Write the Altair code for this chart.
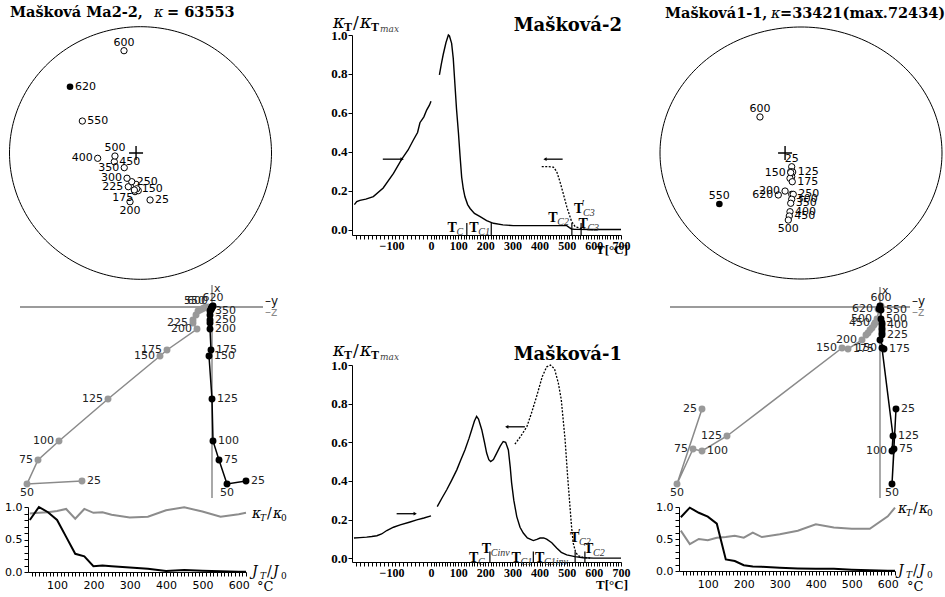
import altair as alt
import numpy as np
import pandas as pd

W, H = 945, 597
SERIF = "DejaVu Serif"
TNR = "Liberation Serif"
SANS = "DejaVu Sans"

# ------------------------------------------------------------------ data
STEPS = [25, 50, 75, 100, 125, 150, 175, 200, 225, 250, 300, 350, 400, 450, 500, 550, 600, 620]

# stereonets (equal-area projection, unit radius)
stA_x = [0.073, -0.042, -0.017, -0.055, -0.034, -0.029, -0.047, -0.080, -0.093, -0.067,
         -0.103, -0.124, -0.327, -0.200, -0.195, -0.444, -0.126, -0.538]
stA_y = [-0.372, -0.306, -0.298, -0.267, -0.248, -0.283, -0.293, -0.386, -0.267, -0.227,
         -0.200, -0.116, -0.042, -0.069, -0.024, 0.253, 0.810, 0.525]
stA_up = [620]
stA_cross = [-0.034, 0.0]

stB_x = [-0.066, -0.073, -0.066, -0.078, -0.059, -0.073, -0.062, -0.113, -0.066, -0.055,
         -0.066, -0.073, -0.078, -0.083, -0.090, -0.579, -0.291, -0.161]
stB_y = [-0.109, -0.148, -0.188, -0.201, -0.151, -0.155, -0.228, -0.302, -0.328, -0.328,
         -0.367, -0.399, -0.466, -0.500, -0.532, -0.405, 0.286, -0.333]
stB_up = [550]
stB_cross = [-0.113, 0.0]

# Zijderveld diagrams (x = vertical, y = black, z = gray)
zA_X = [-174, -177, -153, -134, -92, -49, -43, -22, -16, -13, -8, -4, -3, -2, -1, 0, 0, 1]
zA_Y = [34, 15, 7, 1, 0, -3, -1, -2, -2, -2, -2, -2, -1, -1, 0, 0, 0, 1]
zA_Z = [-130, -185, -174, -153, -104, -52, -45, -15, -19, -19, -16, -14, -12, -10, -8, -6, -3, 1]

zB_X = [-102, -177, -142, -144, -129, -41, -42, -33, -28, -26, -23, -21, -18, -16, -12, -3, 1, -2]
zB_Y = [16, 12, 14, 12, 13, 2, 4, 0, 2, 2, 2, 2, 2, 2, 1, 1, 0, -1]
zB_Z = [-178, -203, -187, -178, -153, -38, -32, -18, -14, -12, -10, -8, -6, -5, -3, -1, 1, -2]

# demagnetisation curves
dA_k = [0.90, 0.91, 0.92, 0.94, 0.97, 0.82, 0.97, 0.91, 0.92, 0.88, 0.84, 0.85, 0.95, 0.995, 0.93, 0.85, 0.89, 0.91]
dA_J = [0.80, 1.0, 0.92, 0.80, 0.54, 0.28, 0.24, 0.09, 0.10, 0.09, 0.07, 0.05, 0.015, 0.03, 0.02, 0.01, 0.005, 0.005]
dB_k = [0.63, 0.42, 0.50, 0.48, 0.52, 0.53, 0.55, 0.52, 0.60, 0.53, 0.575, 0.63, 0.73, 0.68, 0.66, 0.66, 0.855, 0.99]
dB_J = [0.84, 0.99, 0.91, 0.85, 0.74, 0.18, 0.155, 0.09, 0.07, 0.065, 0.05, 0.04, 0.035, 0.035, 0.02, 0.01, 0.005, 0.005]

# thermomagnetic curves, Mašková-2
m2_low_T = [-194, -188, -180, -165, -146, -121, -95, -74, -58, -45, -34, -28, -18, -11, -4, 0]
m2_low_k = [0.13, 0.145, 0.152, 0.158, 0.171, 0.215, 0.29, 0.363, 0.41, 0.46, 0.50, 0.55, 0.58, 0.615, 0.64, 0.66]
m2_heat_T = [31, 38, 45, 55, 64, 68, 76, 82, 88, 94, 101, 107, 113, 119, 125, 135, 144, 160, 181, 205,
             230, 265, 303, 400, 500, 510, 518, 530, 600, 700]
m2_heat_k = [0.795, 0.85, 0.90, 0.96, 1.0, 0.995, 0.957, 0.88, 0.75, 0.62, 0.50, 0.38, 0.27, 0.21, 0.17,
             0.13, 0.11, 0.085, 0.068, 0.048, 0.034, 0.026, 0.022, 0.022, 0.022, 0.012, 0.005, 0.003, 0.002, 0.002]
m2_cool_T = [408, 430, 451, 463, 475, 487, 500, 510, 518, 531, 555, 586]
m2_cool_k = [0.325, 0.325, 0.322, 0.30, 0.248, 0.188, 0.12, 0.077, 0.043, 0.017, 0.006, 0.0]
m2_arrow_from = [-122, 485]
m2_arrow_to = [-73, 420]
m2_arrow_k = [0.363, 0.363]
m2_tc = [132, 222, 519, 553]

# thermomagnetic curves, Mašková-1
m1_low_T = [-195, -180, -163, -150, -137, -125, -112, -95, -78, -55, -36, -18, 0]
m1_low_k = [0.104, 0.106, 0.109, 0.112, 0.116, 0.125, 0.143, 0.16, 0.172, 0.186, 0.198, 0.208, 0.219]
m1_heat_T = [23, 40, 58, 75, 95, 110, 125, 140, 150, 160, 168, 175, 187, 197, 205, 213, 220, 230, 242, 255,
             266, 275, 285, 292, 297, 305, 316, 328, 340, 355, 377, 390, 402, 415, 426, 445, 463, 480,
             500, 530, 561, 600, 700]
m1_heat_k = [0.267, 0.31, 0.354, 0.40, 0.457, 0.51, 0.56, 0.62, 0.665, 0.71, 0.734, 0.72, 0.665, 0.60,
             0.544, 0.51, 0.50, 0.51, 0.544, 0.58, 0.604, 0.60, 0.56, 0.47, 0.39, 0.30, 0.215, 0.16, 0.13,
             0.105, 0.091, 0.097, 0.104, 0.105, 0.098, 0.08, 0.052, 0.03, 0.017, 0.008, 0.002, 0.0, 0.0]
m1_cool_T = [309, 330, 353, 370, 389, 410, 426, 440, 455, 469, 480, 494, 503, 512, 518, 524, 533, 543, 560, 586]
m1_cool_k = [0.59, 0.63, 0.68, 0.75, 0.837, 0.94, 0.99, 1.0, 0.98, 0.907, 0.82, 0.613, 0.43, 0.267, 0.16,
             0.078, 0.03, 0.012, 0.004, 0.0]
m1_arrow_from = [-87, 346]
m1_arrow_to = [-40, 279]
m1_arrow_k = [0.23, 0.68]
m1_tc = [217, 377, 531, 567]

# ------------------------------------------------------------------ helpers
ONE = pd.DataFrame({"o": [0]})


def S(dom, rng):
    return alt.Scale(domain=list(dom), range=list(rng), nice=False, zero=False)


def vtext(txt, x, y, size, font=SERIF, weight="normal", style="normal", color="black",
          align="left", baseline="alphabetic"):
    return alt.Chart(ONE).mark_text(
        text=txt, font=font, fontSize=size, fontWeight=weight, fontStyle=style,
        color=color, align=align, baseline=baseline
    ).encode(x=alt.value(x), y=alt.value(y))


SIDE = {
    "right": dict(dx=5, dy=0, align="left", baseline="middle"),
    "left": dict(dx=-5, dy=0, align="right", baseline="middle"),
    "above": dict(dx=0, dy=-3, align="center", baseline="bottom"),
    "below": dict(dx=0, dy=3, align="center", baseline="top"),
    "aboveleft": dict(dx=-1, dy=-1, align="right", baseline="bottom"),
    "belowleft": dict(dx=-1, dy=2, align="right", baseline="top"),
}


def point_labels(df, xf, yf, X, Y, sides, color):
    out = []
    for side, steps in sides.items():
        out.append(
            alt.Chart(df).transform_filter(alt.FieldOneOfPredicate(field="step", oneOf=steps))
            .mark_text(font=SANS, fontSize=11, color=color, **SIDE[side])
            .encode(x=X(xf), y=Y(yf), text="lab:N")
        )
    return out


def stereonet(cx, cy, rx, ry, xs, ys, up, cross, sides):
    xsc = S([-1, 1], [cx - rx, cx + rx])
    ysc = S([-1, 1], [cy + ry, cy - ry])
    X = lambda f: alt.X(f"{f}:Q", scale=xsc, axis=None)
    Y = lambda f: alt.Y(f"{f}:Q", scale=ysc, axis=None)
    ang = np.linspace(0, 2 * np.pi, 241)
    circ = pd.DataFrame({"i": np.arange(len(ang)), "cx": np.cos(ang), "cy": np.sin(ang)})
    layers = [alt.Chart(circ).mark_line(color="black", strokeWidth=1)
              .encode(x=X("cx"), y=Y("cy"), order="i:Q")]
    df = pd.DataFrame({"step": STEPS, "x": xs, "y": ys, "lab": [str(s) for s in STEPS]})
    df["up"] = df["step"].isin(up)
    cdf = pd.DataFrame({"x": [cross[0]], "y": [cross[1]]})
    layers.append(alt.Chart(cdf).mark_point(shape="M-1,0L1,0M0,-1L0,1", size=196, filled=False,
                                            color="black", strokeWidth=1.4, opacity=1)
                  .encode(x=X("x"), y=Y("y")))
    layers.append(alt.Chart(df).transform_filter("!datum.up")
                  .mark_point(shape="circle", size=40, filled=True, fill="white", stroke="black",
                              strokeWidth=1, opacity=1)
                  .encode(x=X("x"), y=Y("y")))
    layers.append(alt.Chart(df).transform_filter("datum.up")
                  .mark_point(shape="circle", size=44, filled=True, color="black", opacity=1)
                  .encode(x=X("x"), y=Y("y")))
    layers += point_labels(df, "x", "y", X, Y, sides, "black")
    return alt.layer(*layers)


def zijder(ox, oy, hdom, vdom, xv, yv, zv, sidesY, sidesZ):
    hsc = S(hdom, [ox + hdom[0], ox + hdom[1]])
    vsc = S(vdom, [oy - vdom[0], oy - vdom[1]])
    X = lambda f: alt.X(f"{f}:Q", scale=hsc, axis=None)
    Y = lambda f: alt.Y(f"{f}:Q", scale=vsc, axis=None)
    ax = pd.DataFrame({"h1": [hdom[0], 0], "h2": [hdom[1], 0], "v1": [0, vdom[0]], "v2": [0, vdom[1]]})
    layers = [alt.Chart(ax).mark_rule(color="#7a7a7a", strokeWidth=1.3)
              .encode(x=X("h1"), x2="h2", y=Y("v1"), y2="v2")]
    df = pd.DataFrame({"step": STEPS, "X": xv, "Y": yv, "Z": zv, "lab": [str(s) for s in STEPS]})
    layers.append(alt.Chart(df).mark_line(color="#8a8a8a", strokeWidth=1.5)
                  .encode(x=X("Z"), y=Y("X"), order="step:Q"))
    layers.append(alt.Chart(df).mark_circle(color="#999999", size=48, opacity=1)
                  .encode(x=X("Z"), y=Y("X")))
    layers.append(alt.Chart(df).mark_line(color="black", strokeWidth=1.5)
                  .encode(x=X("Y"), y=Y("X"), order="step:Q"))
    layers.append(alt.Chart(df).mark_circle(color="black", size=48, opacity=1)
                  .encode(x=X("Y"), y=Y("X")))
    layers += point_labels(df, "Z", "X", X, Y, sidesZ, "#222222")
    layers += point_labels(df, "Y", "X", X, Y, sidesY, "#222222")
    lab = pd.DataFrame({"h": [0, hdom[1], hdom[1]], "v": [vdom[1], 0, 0]})
    layers.append(alt.Chart(lab.iloc[[0]]).mark_text(text="x", font=SANS, fontSize=11, align="left",
                                                     baseline="top", dx=2, dy=-2, color="#222")
                  .encode(x=X("h"), y=Y("v")))
    layers.append(alt.Chart(lab.iloc[[1]]).mark_text(text="–y", font=SANS, fontSize=12, align="left",
                                                     baseline="middle", dx=2, dy=-6, color="#111")
                  .encode(x=X("h"), y=Y("v")))
    layers.append(alt.Chart(lab.iloc[[2]]).mark_text(text="–z", font=SANS, fontSize=12, align="left",
                                                     baseline="middle", dx=2, dy=5, color="#888")
                  .encode(x=X("h"), y=Y("v")))
    return alt.layer(*layers)


def demag(x0, x1, yb, yt, kv, jv):
    xsc = S([20, 620], [x0, x1])
    ysc = S([0, 1], [yb, yt])
    xa = alt.Axis(orient="bottom", offset=yb - H, values=list(range(30, 621, 10)),
                  labelExpr="datum.value % 100 == 0 ? datum.label : ''", tickSize=4,
                  labelFont=SANS, labelFontSize=11, labelColor="black", labelPadding=3,
                  labelOverlap=False, labelFlush=False, domainColor="black", tickColor="black",
                  grid=False, title=None)
    ya = alt.Axis(orient="left", offset=-x0, values=[round(i / 10, 1) for i in range(11)],
                  format=".1f",
                  labelExpr="(datum.value == 0 || datum.value == 0.5 || datum.value == 1) ? datum.label : ''",
                  tickSize=4, labelFont=SANS, labelFontSize=11, labelColor="black", labelPadding=2,
                  labelOverlap=False, labelFlush=False, domainColor="black", tickColor="black",
                  grid=False, title=None)
    df = pd.DataFrame({"T": STEPS * 2, "v": kv + jv, "s": ["k"] * len(STEPS) + ["J"] * len(STEPS)})
    enc = dict(x=alt.X("T:Q", scale=xsc, axis=xa), y=alt.Y("v:Q", scale=ysc, axis=ya))
    gk = alt.Chart(df).transform_filter("datum.s == 'k'").mark_line(color="#8c8c8c", strokeWidth=2).encode(**enc)
    bj = alt.Chart(df).transform_filter("datum.s == 'J'").mark_line(color="black", strokeWidth=2).encode(**enc)
    return alt.layer(gk, bj)


def thermo(yax, ytop, ylo, lowT, lowk, heatT, heatk, coolT, coolk, a_from, a_to, a_k, tcs, labels):
    xsc = S([-200, 0, 700], [352, 431, 621])
    ysc = S([ylo, 1.0], [yax, ytop])
    xa = alt.Axis(orient="bottom", offset=yax - H, values=list(range(-190, 701, 10)),
                  labelExpr="datum.value % 100 == 0 ? datum.label : ''", tickSize=4,
                  labelFont=TNR, labelFontWeight="bold", labelFontSize=12, labelColor="black",
                  labelPadding=1, labelOverlap=False, labelFlush=False, domainColor="black",
                  tickColor="black", grid=False, title=None)
    ya = alt.Axis(orient="left", offset=-352, values=[0, 0.2, 0.4, 0.6, 0.8, 1.0], format=".1f",
                  tickSize=4, labelFont=TNR, labelFontWeight="bold", labelFontSize=13,
                  labelColor="black", labelPadding=1, labelOverlap=False, labelFlush=False,
                  domainColor="black", tickColor="black", grid=False, title=None)
    X = lambda f: alt.X(f"{f}:Q", scale=xsc, axis=xa)
    Y = lambda f: alt.Y(f"{f}:Q", scale=ysc, axis=ya)
    low = pd.DataFrame({"T": lowT, "k": lowk})
    heat = pd.DataFrame({"T": heatT, "k": heatk})
    cool = pd.DataFrame({"T": coolT, "k": coolk})
    layers = [
        alt.Chart(low).mark_line(color="black", strokeWidth=1.4).encode(x=X("T"), y=Y("k")),
        alt.Chart(heat).mark_line(color="black", strokeWidth=1.4).encode(x=X("T"), y=Y("k")),
        alt.Chart(cool).mark_line(color="black", strokeWidth=1.3, strokeDash=[2, 1.5]).encode(x=X("T"), y=Y("k")),
    ]
    arr = pd.DataFrame({"t0": a_from, "t1": a_to, "k": a_k})
    layers.append(alt.Chart(arr).mark_rule(color="black", strokeWidth=1.3)
                  .encode(x=X("t0"), x2="t1", y=Y("k")))
    layers.append(alt.Chart(arr).transform_calculate(ang="datum.t1 > datum.t0 ? 0 : 180")
                  .mark_point(shape="triangle-right", size=14, filled=True, color="black", opacity=1)
                  .encode(x=X("t1"), y=Y("k"), angle=alt.Angle("ang:Q", scale=None)))
    tdf = pd.DataFrame({"T": tcs})
    tdf["lo"] = ylo
    tdf["hi"] = 0.035
    layers.append(alt.Chart(tdf).mark_rule(color="black", strokeWidth=1.2)
                  .encode(x=X("T"), y=Y("lo"), y2="hi"))
    ldf = pd.DataFrame(labels, columns=["T", "k", "sub", "prime"])
    layers.append(alt.Chart(ldf).mark_text(text="T", font=TNR, fontWeight="bold", fontSize=14,
                                           align="left", baseline="alphabetic", color="black")
                  .encode(x=X("T"), y=Y("k")))
    layers.append(alt.Chart(ldf).mark_text(font=TNR, fontStyle="italic", fontSize=10, align="left",
                                           baseline="alphabetic", dx=9, dy=3, color="#333")
                  .encode(x=X("T"), y=Y("k"), text="sub:N"))
    layers.append(alt.Chart(ldf).transform_filter("datum.prime")
                  .mark_text(text="′", font=TNR, fontSize=12, align="left", baseline="alphabetic",
                             dx=8, dy=-5, color="black")
                  .encode(x=X("T"), y=Y("k")))
    return alt.layer(*layers)


def ktitle(x, y):
    return [
        vtext("κ", x, y, 18, font=SERIF, style="italic"),
        vtext("T", x + 11, y + 3, 12, font=TNR, weight="bold"),
        vtext("/", x + 20, y, 17, font=SERIF),
        vtext("κ", x + 27, y, 18, font=SERIF, style="italic"),
        vtext("T", x + 38, y + 3, 12, font=TNR, weight="bold"),
        vtext("max", x + 47, y + 4, 9, font=SERIF, style="italic", color="#444"),
    ]


def ratio_label(x, y, sym):
    return [
        vtext(sym, x, y, 14, font=SERIF, style="italic"),
        vtext("T", x + 8, y + 3, 9, font=SERIF, style="italic"),
        vtext("/", x + 15, y, 14, font=SERIF),
        vtext(sym, x + 21, y, 14, font=SERIF, style="italic"),
        vtext("0", x + 29, y + 3, 9, font=SERIF),
    ]


# ------------------------------------------------------------------ panels
layers = []

layers.append(stereonet(140.5, 153, 131, 126.3, stA_x, stA_y, stA_up, stA_cross,
                        {"right": [620, 550, 450, 250, 150, 25], "left": [400, 350, 300, 225],
                         "above": [600, 500], "below": [200], "belowleft": [175]}))
layers.append(stereonet(801, 153, 141, 126, stB_x, stB_y, stB_up, stB_cross,
                        {"above": [600, 25, 550], "right": [125, 175, 250, 300, 350, 400, 450],
                         "left": [150, 620, 200], "below": [500]}))

layers.append(zijder(212, 307, [-192, 51], [-191, 22], zA_X, zA_Y, zA_Z,
                     {"right": [350, 250, 200, 175, 150, 125, 100, 75, 25], "below": [50]},
                     {"above": [620], "aboveleft": [600, 550], "left": [225, 200, 175, 150, 125, 100, 75],
                      "below": [50], "right": [25]}))
layers.append(zijder(880, 307, [-210, 30], [-191, 20], zB_X, zB_Y, zB_Z,
                     {"right": [550, 500, 400, 225, 175, 25, 125, 75], "left": [150, 100], "below": [50]},
                     {"above": [600], "left": [620, 500, 450, 200, 150, 125, 75, 25],
                      "right": [175, 100], "below": [50]}))

layers.append(demag(28, 246, 572, 507, dA_k, dA_J))
layers.append(demag(679, 895, 571, 507, dB_k, dB_J))

layers.append(thermo(235, 35, -0.026, m2_low_T, m2_low_k, m2_heat_T, m2_heat_k, m2_cool_T, m2_cool_k,
                     m2_arrow_from, m2_arrow_to, m2_arrow_k, m2_tc,
                     [(61, -0.009, "C", False), (141, -0.009, "C1", False), (432, 0.039, "C2", False),
                      (527, 0.085, "C3", True), (543, 0.011, "C3", False)]))
layers.append(thermo(562, 365, -0.02, m1_low_T, m1_low_k, m1_heat_T, m1_heat_k, m1_cool_T, m1_cool_k,
                     m1_arrow_from, m1_arrow_to, m1_arrow_k, m1_tc,
                     [(140, -0.018, "C", False), (187, 0.025, "Cinv", False), (297, -0.018, "C1", False),
                      (383, -0.018, "C1inv", False), (512, 0.085, "C2", True), (564, 0.025, "C2", False)]))

# titles and text
layers.append(vtext("Mašková Ma2-2,", 10, 17, 14.5, weight="bold"))
layers.append(vtext("κ", 154, 17, 14.5, style="italic"))
layers.append(vtext("= 63553", 167, 17, 14.5, weight="bold"))
layers.append(vtext("Mašková1-1,", 665, 18, 14.5, weight="bold"))
layers.append(vtext("κ", 771, 18, 14.5, style="italic"))
layers.append(vtext("=33421(max.72434)", 780, 18, 14.5, weight="bold"))

layers.append(vtext("Mašková-2", 622, 31, 18, weight="bold", align="right"))
layers.append(vtext("Mašková-1", 622, 360, 18, weight="bold", align="right"))
layers += ktitle(333, 28)
layers += ktitle(333, 356)
layers.append(vtext("T[°C]", 628, 254, 13, font=TNR, weight="bold", align="right"))
layers.append(vtext("T[°C]", 628, 589, 13, font=TNR, weight="bold", align="right"))

layers += ratio_label(252, 518, "κ")
layers += ratio_label(252, 576, "J")
layers.append(vtext("°C", 257, 591, 13, font=SERIF))
layers += ratio_label(898, 513, "κ")
layers += ratio_label(898, 575, "J")
layers.append(vtext("°C", 907, 591, 13, font=SERIF))

chart = (
    alt.layer(*layers)
    .resolve_scale(x="independent", y="independent")
    .properties(width=W, height=H, padding=0, autosize=alt.AutoSizeParams(type="none"))
    .configure_view(stroke=None)
)

chart.save("out.html", embed_options={"renderer": "svg", "actions": False})
